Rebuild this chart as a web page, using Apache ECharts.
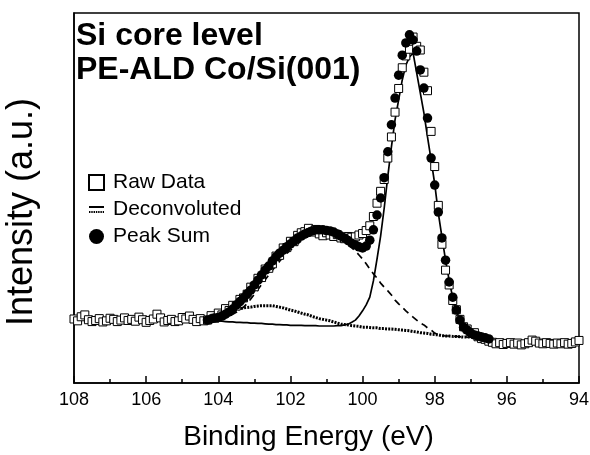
<!DOCTYPE html>
<html>
<head>
<meta charset="utf-8">
<title>Si core level - PE-ALD Co/Si(001)</title>
<script src="https://cdn.jsdelivr.net/npm/echarts@6/dist/echarts.min.js"></script>
<style>
  html, body { margin: 0; padding: 0; background: #fff; }
  #chart { width: 590px; height: 455px; }
</style>
</head>
<body>
<div id="chart"></div>
<script>
// binding energy scan, 108.0 -> 94.0 eV in 0.1 eV steps
var scanStart = 108.0;
var scanStep = 0.1;
// the fitted curves cover 104.3 -> 96.5 eV
var fitStart = 104.3;

// raw counts (a.u.), one per scan step
var rawData = [
  // 108.0 - 104.4
  17.3, 16.8, 17.9, 18.4, 17.1, 16.6, 16.9, 17.4, 16.5, 16.8,
  17.5, 17.2, 16.6, 17.0, 17.6, 16.9, 17.2, 16.7, 17.8, 17.1,
  16.4, 16.9, 17.3, 18.6, 17.6, 16.5, 16.9, 17.2, 16.6, 16.8,
  17.7, 17.3, 18.1, 17.2, 16.6, 17.4, 16.8,
  // 104.3 - 96.5
  17.0, 18.2, 17.5, 18.9, 18.4, 20.1, 19.6, 21.0, 20.8, 22.6,
  23.0, 24.0, 25.9, 26.0, 28.3, 28.5, 30.8, 31.0, 32.2, 34.3,
  34.5, 36.5, 36.6, 38.3, 38.2, 39.9, 40.6, 40.9, 41.8, 40.8,
  41.5, 40.3, 39.8, 40.6, 40.0, 39.6, 40.1, 39.2, 39.0, 39.6,
  39.4, 39.5, 40.0, 40.4, 41.2, 42.5, 45.0, 48.6, 51.8, 55.0,
  60.8, 66.5, 73.2, 79.6, 85.2, 88.4, 90.2, 93.5, 91.0, 90.0,
  84.0, 79.0, 68.0, 58.5, 48.0, 37.5, 30.5, 26.5, 22.3, 19.8,
  17.2, 15.2, 14.6, 13.4, 13.6, 12.5, 12.0, 11.8, 11.3,
  // 96.4 - 94.0
  11.0, 10.6, 10.9, 10.4, 10.7, 10.9, 10.5, 10.8, 10.3, 10.6,
  10.9, 11.6, 11.3, 10.8, 10.6, 10.9, 10.7, 10.5, 10.8, 10.6,
  10.9, 10.5, 10.7, 11.1, 11.5
];

// peak sum of the fit (104.3 - 96.5)
var peakSum = [
  17.0, 17.3, 17.6, 17.7, 18.1, 18.6, 19.2, 20.0, 21.1, 22.0,
  23.0, 24.1, 25.1, 26.5, 27.8, 29.2, 30.5, 31.6, 33.0, 34.1,
  35.1, 35.9, 36.8, 37.6, 38.4, 39.2, 39.7, 40.3, 40.7, 41.1,
  41.4, 41.4, 41.4, 41.2, 41.1, 40.8, 40.3, 39.7, 39.2, 38.5,
  37.8, 37.3, 36.8, 36.5, 37.0, 38.6, 41.4, 45.4, 50.0, 55.5,
  62.5, 69.8, 77.0, 83.2, 88.6, 91.9, 94.1, 92.7, 89.7, 84.6,
  79.7, 71.6, 60.8, 53.5, 46.2, 39.2, 33.2, 27.3, 23.2, 19.7,
  17.0, 15.1, 14.3, 13.5, 13.0, 12.7, 12.4, 12.2, 11.9
];

// deconvoluted components (104.3 - 96.5), background included
var fitMain = [ // solid
  17.0, 16.9, 16.8, 16.8, 16.7, 16.6, 16.5, 16.5, 16.4, 16.4,
  16.3, 16.3, 16.2, 16.2, 16.1, 16.1, 16.0, 15.9, 15.9, 15.8,
  15.8, 15.7, 15.7, 15.6, 15.6, 15.6, 15.6, 15.5, 15.5, 15.5,
  15.5, 15.4, 15.4, 15.4, 15.4, 15.4, 15.5, 15.5, 15.7, 15.9,
  16.4, 17.0, 18.1, 19.5, 21.1, 23.2, 27.6, 33.5, 39.7, 47.3,
  55.9, 63.8, 71.1, 76.5, 81.9, 85.9, 88.1, 89.2, 83.8, 78.4,
  73.0, 66.5, 60.3, 53.8, 45.9, 39.5, 33.2, 27.8, 23.0, 19.5,
  17.0, 15.1, 14.1, 13.4, 13.0, 12.7, 12.4, 12.2, 12.0
];
var fitBroad = [ // dashed
  17.0, 17.1, 17.2, 17.4, 17.6, 17.9, 18.2, 18.6, 19.1, 19.7,
  20.5, 21.5, 22.7, 24.0, 25.3, 26.6, 27.9, 29.2, 30.5, 31.7,
  32.9, 34.0, 35.0, 35.9, 36.8, 37.6, 38.4, 39.1, 39.7, 40.1,
  40.5, 40.7, 40.7, 40.5, 40.3, 39.9, 39.5, 38.8, 38.1, 37.3,
  36.5, 35.7, 34.6, 33.5, 32.2, 30.8, 29.5, 28.4, 27.0, 25.9,
  24.9, 23.8, 22.4, 21.4, 20.5, 19.5, 18.6, 17.8, 17.0, 16.2,
  15.7, 14.9, 14.3, 13.5, 13.0, 12.8, 12.7, 12.7, 12.6, 12.6,
  12.5, 12.4, 12.4, 12.4, 12.3, 12.3, 12.2, 12.2, 12.0
];
var fitSmall = [ // dotted
  17.3, 17.7, 18.1, 18.4, 18.6, 18.9, 19.3, 19.6, 19.9, 20.1,
  20.3, 20.4, 20.5, 20.7, 20.8, 20.9, 20.9, 20.9, 20.9, 20.7,
  20.5, 20.3, 20.0, 19.7, 19.5, 19.2, 18.9, 18.6, 18.4, 18.0,
  17.7, 17.4, 17.2, 17.0, 16.8, 16.5, 16.2, 15.9, 15.8, 15.7,
  15.5, 15.4, 15.3, 15.1, 15.1, 15.0, 14.9, 14.9, 14.7, 14.7,
  14.6, 14.6, 14.5, 14.4, 14.3, 14.2, 14.1, 13.9, 13.8, 13.6,
  13.5, 13.4, 13.2, 13.1, 13.0, 12.8, 12.7, 12.7, 12.6, 12.6,
  12.5, 12.4, 12.4, 12.4, 12.3, 12.3, 12.2, 12.2, 12.0
];

var fontFamily = '"Liberation Sans", Arial, sans-serif';

// legend icon for the fit lines: solid bar over a dotted bar
var fitIcon = 'path://M0,0H21V3H0Z' +
  ' M0,7H2V10H0Z M3.2,7H5.2V10H3.2Z M6.4,7H8.4V10H6.4Z M9.6,7H11.6V10H9.6Z' +
  ' M12.8,7H14.8V10H12.8Z M16,7H18V10H16Z M19.2,7H21V10H19.2Z';

// [energy, intensity] pairs on the scan grid
function toPairs(start, values) {
  var out = [];
  for (var i = 0; i < values.length; i++) {
    out.push([Math.round((start - i * scanStep) * 10) / 10, values[i]]);
  }
  return out;
}

var chart = echarts.init(document.getElementById('chart'));

var option = {
  animation: false,
  backgroundColor: '#fff',
  textStyle: { fontFamily: fontFamily, color: '#000' },
  title: {
    text: 'Si core level\nPE-ALD Co/Si(001)',
    left: 76,
    top: 19,
    padding: 0,
    textStyle: {
      fontFamily: fontFamily,
      fontSize: 32,
      fontWeight: 'bold',
      color: '#000',
      lineHeight: 34
    }
  },
  legend: {
    orient: 'vertical',
    left: 88,
    top: 172,
    padding: 0,
    itemGap: 6,
    itemWidth: 15,
    itemHeight: 15,
    textStyle: { fontFamily: fontFamily, fontSize: 21, color: '#000', lineHeight: 21, padding: [0, 0, 0, 4] },
    data: [
      { name: 'Raw Data', icon: 'rect' },
      { name: 'Deconvoluted', icon: fitIcon, itemStyle: { color: '#000' } },
      { name: 'Peak Sum', icon: 'circle' }
    ]
  },
  grid: {
    left: 74,
    right: 11,
    top: 13,
    bottom: 72,
    outerBoundsMode: 'none',
    show: true,
    borderColor: '#000',
    borderWidth: 1.5
  },
  xAxis: {
    type: 'value',
    min: 94,
    max: 108,
    interval: 2,
    inverse: true,
    name: 'Binding Energy (eV)',
    nameLocation: 'middle',
    nameGap: 40,
    nameTextStyle: { fontFamily: fontFamily, fontSize: 28, color: '#000', padding: [0, 36, 0, 0] },
    axisLine: { lineStyle: { color: '#000', width: 1.5 } },
    axisTick: { inside: true, length: 7, lineStyle: { color: '#000', width: 1.5 } },
    minorTick: { show: true, splitNumber: 2, length: 4, lineStyle: { color: '#000', width: 1.5 } },
    axisLabel: { fontFamily: fontFamily, fontSize: 18, color: '#000', margin: 8 },
    splitLine: { show: false }
  },
  yAxis: {
    type: 'value',
    min: 0,
    max: 100,
    name: 'Intensity (a.u.)',
    nameLocation: 'middle',
    nameGap: 34,
    nameTextStyle: { fontFamily: fontFamily, fontSize: 36, color: '#000', padding: [0, 28, 0, 0] },
    axisLine: { show: true, lineStyle: { color: '#000', width: 1.5 } },
    axisTick: { show: false },
    axisLabel: { show: false },
    splitLine: { show: false }
  },
  series: [
    {
      name: 'Deconvoluted (small)',
      type: 'line',
      symbol: 'none',
      data: toPairs(fitStart, fitSmall),
      lineStyle: { color: '#000', width: 3, type: [2, 1.2] },
      z: 2
    },
    {
      name: 'Deconvoluted (broad)',
      type: 'line',
      symbol: 'none',
      data: toPairs(fitStart, fitBroad),
      lineStyle: { color: '#000', width: 1.7, type: [7, 5] },
      z: 2
    },
    {
      name: 'Deconvoluted',
      type: 'line',
      symbol: 'none',
      data: toPairs(fitStart, fitMain),
      itemStyle: { color: '#000' },
      lineStyle: { color: '#000', width: 1.7 },
      z: 2
    },
    {
      name: 'Raw Data',
      type: 'scatter',
      symbol: 'rect',
      symbolSize: 8,
      data: toPairs(scanStart, rawData),
      itemStyle: { color: '#fff', borderColor: '#000', borderWidth: 1, opacity: 1 },
      z: 3
    },
    {
      name: 'Peak Sum',
      type: 'scatter',
      symbol: 'circle',
      symbolSize: 9.5,
      data: toPairs(fitStart, peakSum),
      itemStyle: { color: '#000', opacity: 1 },
      z: 4
    }
  ]
};

chart.setOption(option);
</script>
</body>
</html>
